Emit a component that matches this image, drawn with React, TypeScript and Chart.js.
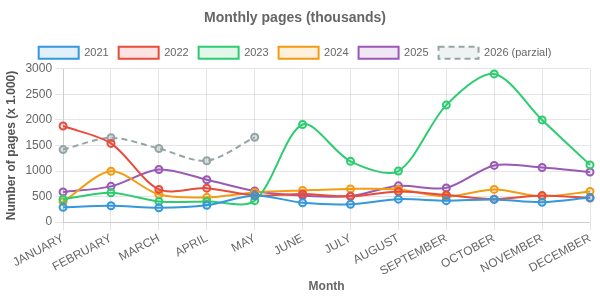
import React, { useEffect, useRef } from "react";
import { Chart, registerables } from "chart.js";

Chart.register(...registerables);

const months = ["JANUARY", "FEBRUARY", "MARCH", "APRIL", "MAY", "JUNE", "JULY", "AUGUST", "SEPTEMBER", "OCTOBER", "NOVEMBER", "DECEMBER"];
const y2021 = [290, 320, 280, 330, 520, 380, 350, 450, 420, 445, 390, 480];
const y2022 = [1880, 1540, 640, 665, 520, 550, 505, 600, 530, 450, 520, 470];
const y2023 = [450, 575, 405, 405, 420, 1910, 1190, 1000, 2290, 2900, 2000, 1120];
const y2024 = [400, 995, 540, 485, 580, 620, 650, 640, 500, 640, 505, 600];
const y2025 = [590, 700, 1030, 830, 610, 520, 510, 710, 670, 1110, 1070, 980];
const y2026 = [1420, 1650, 1440, 1200, 1660];

const FONT = "'Liberation Sans', Arial, Helvetica, sans-serif";

function ds(label: string, data: number[], color: string, fill: string, dash?: number[]) {
  return {
    label,
    data,
    borderColor: color,
    backgroundColor: fill,
    pointBackgroundColor: fill,
    pointBorderColor: color,
    pointRadius: 3.5,
    pointBorderWidth: 2,
    borderWidth: 2,
    tension: 0.3,
    fill: false,
    borderDash: dash,
  };
}

export default function App() {
  const ref = useRef<HTMLCanvasElement>(null);
  useEffect(() => {
    document.body.style.margin = "0";
    const chart = new Chart(ref.current!, {
      type: "line",
      data: {
        labels: months,
        datasets: [
          ds("2021", y2021, "#3498db", "rgba(52,152,219,0.15)"),
          ds("2022", y2022, "#e74c3c", "rgba(231,76,60,0.15)"),
          ds("2023", y2023, "#2ecc71", "rgba(46,204,113,0.15)"),
          ds("2024", y2024, "#f39c12", "rgba(243,156,18,0.15)"),
          ds("2025", y2025, "#9b59b6", "rgba(155,89,182,0.15)"),
          { ...ds("2026 (parzial)", y2026, "#95a5a6", "rgba(149,165,166,0.15)", [6, 4]), pointBackgroundColor: "rgba(149,165,166,0.35)", pointBorderColor: "#95a5a6" },
        ],
      },
      options: {
        animation: false,
        responsive: false,
        maintainAspectRatio: false,
        layout: { padding: { left: 0, right: 10, top: 6, bottom: 0 } },
        plugins: {
          title: {
            display: true,
            text: "Monthly pages (thousands)",
            color: "#666",
            font: { family: FONT, size: 14, weight: "bold" },
            padding: { top: 4, bottom: 10 },
          },
          legend: {
            labels: {
              color: "#666",
              font: { family: FONT, size: 11 },
              boxWidth: 40,
              boxHeight: 12,
              padding: 10,
            },
          },
          tooltip: { enabled: false },
        },
        scales: {
          x: {
            ticks: { color: "#666", font: { family: FONT, size: 12 }, maxRotation: 28, minRotation: 28, padding: 1 },
            grid: { color: "rgba(0,0,0,0.1)" },
            title: { display: true, text: "Month", color: "#666", font: { family: FONT, size: 12, weight: "bold" }, padding: { top: 0, bottom: 4 } },
          },
          y: {
            min: 0,
            max: 3000,
            ticks: { stepSize: 500, color: "#666", font: { family: FONT, size: 12 }, callback: (v: any) => String(v) },
            grid: { color: "rgba(0,0,0,0.1)" },
            title: { display: true, text: "Number of pages (x 1.000)", color: "#555", font: { family: FONT, size: 12, weight: "bold" } },
          },
        },
      },
    });
    return () => chart.destroy();
  }, []);
  return <canvas ref={ref} width={600} height={298} style={{ display: "block", width: 600, height: 298 }} />;
}
